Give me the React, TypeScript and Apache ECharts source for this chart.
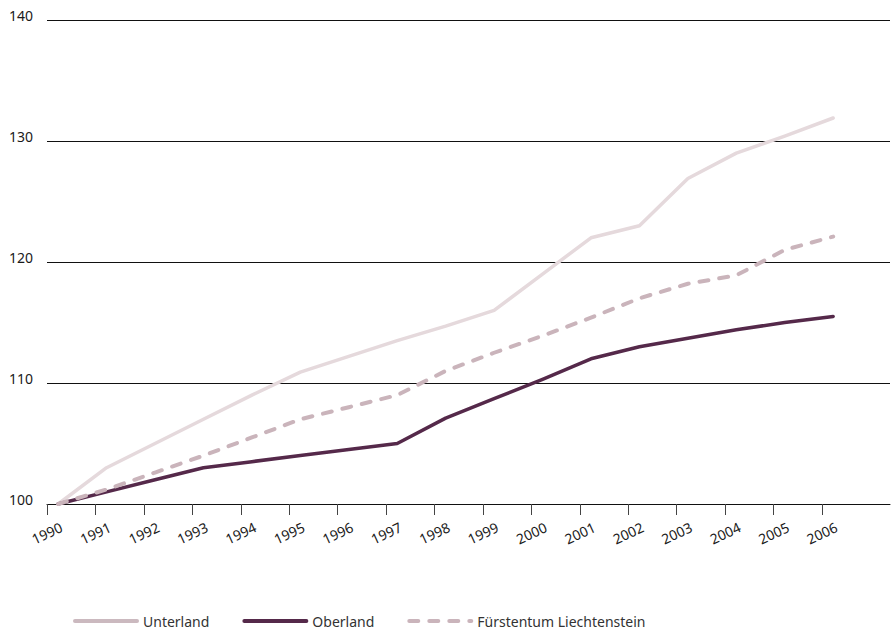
import React, { useEffect, useRef } from "react";
import * as echarts from "echarts";

const years = [1990, 1991, 1992, 1993, 1994, 1995, 1996, 1997, 1998, 1999, 2000, 2001, 2002, 2003, 2004, 2005, 2006];
const unterland = [100, 103, 105, 107, 109, 110.9, 112.2, 113.5, 114.7, 116, 119, 122, 123, 126.9, 129, 130.4, 131.9];
const oberland = [100, 101, 102, 103, 103.5, 104, 104.5, 105, 107.1, 108.7, 110.3, 112, 113, 113.7, 114.4, 115, 115.5];
const fuerstentum = [100, 101.2, 102.6, 104, 105.5, 107, 108, 109, 111, 112.5, 113.9, 115.4, 117, 118.2, 118.9, 121, 122.1];
const seriesNames = ["Unterland", "Oberland", "Fürstentum Liechtenstein"];

const TICK_SHIFT = 0.23; // ticks sit slightly left of the data points
const FONT = "'Noto Sans', 'Open Sans', sans-serif";

export default function App() {
  const ref = useRef<HTMLDivElement>(null);
  useEffect(() => {
    if (!ref.current) return;
    const chart = echarts.init(ref.current, undefined, { renderer: "svg" });
    const pair = (arr: number[]) => years.map((y, i) => [y, arr[i]]);
    const xMin = years[0] - TICK_SHIFT;
    const pxPerYear = 48.44;
    const fullWidth = 843;
    const tickWidth = pxPerYear * (years.length - 1);
    chart.setOption({
      animation: false,
      grid: [
        { left: 47, right: 2, top: 20, bottom: 127 },
        { left: 47, width: tickWidth, top: 20, bottom: 127 },
      ],
      xAxis: [
        {
          type: "value",
          gridIndex: 0,
          min: xMin,
          max: xMin + fullWidth / pxPerYear,
          axisLine: { show: true, lineStyle: { color: "#111", width: 1 } },
          axisTick: { show: false },
          axisLabel: { show: false },
          splitLine: { show: false },
        },
        {
          type: "value",
          gridIndex: 1,
          min: xMin,
          max: xMin + (years.length - 1),
          interval: 1,
          axisLine: { show: false },
          axisTick: { show: true, length: 11, lineStyle: { color: "#444", width: 1 } },
          axisLabel: {
            show: true,
            showMinLabel: true,
            showMaxLabel: true,
            rotate: 25,
            align: "center",
            verticalAlign: "middle",
            margin: 29,
            color: "#1a1a1a",
            fontSize: 14,
            fontFamily: FONT,
            formatter: (v: number) => String(Math.round(v + TICK_SHIFT)),
          },
          splitLine: { show: false },
        },
      ],
      yAxis: [
        {
          type: "value",
          gridIndex: 0,
          min: 100,
          max: 140,
          interval: 10,
          axisLine: { show: false },
          axisTick: { show: false },
          axisLabel: {
            margin: 14,
            color: "#1a1a1a",
            fontSize: 14,
            fontFamily: FONT,
            verticalAlign: "bottom",
            lineHeight: 10,
          },
          splitLine: { show: true, lineStyle: { color: "#111", width: 1 } },
        },
        { type: "value", gridIndex: 1, min: 100, max: 140, show: false, splitLine: { show: false } },
      ],
      legend: {
        left: 68,
        top: 609,
        itemWidth: 62,
        itemHeight: 14,
        itemGap: 33,
        itemStyle: { opacity: 0 },
        lineStyle: { width: 4, cap: "round" },
        textStyle: { color: "#333", fontSize: 14, lineHeight: 14, fontFamily: FONT, padding: [0, 0, 0, 1] },
        data: [
          { name: seriesNames[0], lineStyle: { color: "#cbb9bf", width: 4 } },
          { name: seriesNames[1] },
          { name: seriesNames[2] },
        ],
      },
      series: [
        {
          name: seriesNames[0],
          type: "line",
          xAxisIndex: 0,
          yAxisIndex: 0,
          data: pair(unterland),
          symbol: "none",
          lineStyle: { color: "#e5d9dc", width: 3.5, cap: "round", join: "round" },
          itemStyle: { color: "#e5d9dc" },
        },
        {
          name: seriesNames[1],
          type: "line",
          xAxisIndex: 0,
          yAxisIndex: 0,
          data: pair(oberland),
          symbol: "none",
          lineStyle: { color: "#55294a", width: 3.5, cap: "round", join: "round" },
          itemStyle: { color: "#55294a" },
        },
        {
          name: seriesNames[2],
          type: "line",
          xAxisIndex: 0,
          yAxisIndex: 0,
          data: pair(fuerstentum),
          symbol: "none",
          lineStyle: { color: "#cab4bb", width: 4, type: [9, 11], cap: "round", join: "round" },
          itemStyle: { color: "#cab4bb" },
        },
      ],
    });
    return () => chart.dispose();
  }, []);
  return <div ref={ref} style={{ width: 892, height: 631, position: "absolute", left: 0, top: 0 }} />;
}
